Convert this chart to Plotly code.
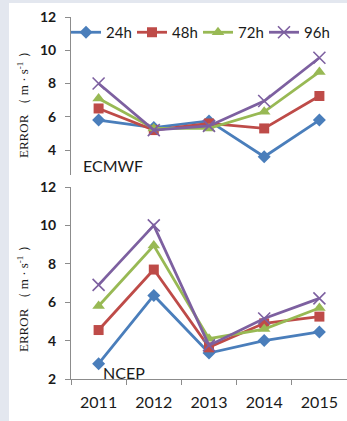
import plotly.graph_objects as go

years = ["2011", "2012", "2013", "2014", "2015"]
series_names = ["24h", "48h", "72h", "96h"]

ecmwf_24h = [5.8, 5.35, 5.75, 3.6, 5.8]
ecmwf_48h = [6.5, 5.2, 5.6, 5.3, 7.25]
ecmwf_72h = [7.1, 5.3, 5.3, 6.3, 8.7]
ecmwf_96h = [8.0, 5.2, 5.45, 6.95, 9.55]

ncep_24h = [2.8, 6.35, 3.35, 4.0, 4.45]
ncep_48h = [4.55, 7.7, 3.65, 4.9, 5.25]
ncep_72h = [5.8, 8.95, 4.1, 4.6, 5.7]
ncep_96h = [6.9, 10.0, 3.75, 5.15, 6.2]

y_ticks = [2, 4, 6, 8, 10, 12]

colors = ["#4a7ebb", "#be4b48", "#98b954", "#7d60a0"]
symbols = ["diamond", "square", "triangle-up", "x-thin"]
sizes = [10, 10, 11, 12]

W, H = 347, 421

def px_x(p):
    return p / W

def px_y(p):
    return 1 - p / H

fig = go.Figure()

ecmwf = [ecmwf_24h, ecmwf_48h, ecmwf_72h, ecmwf_96h]
ncep = [ncep_24h, ncep_48h, ncep_72h, ncep_96h]

for i, name in enumerate(series_names):
    mk = dict(symbol=symbols[i], size=sizes[i], color=colors[i])
    if symbols[i] == "x-thin":
        mk["line"] = dict(color=colors[i], width=1.6)
    fig.add_trace(go.Scatter(
        x=years, y=ecmwf[i], name=name, mode="lines+markers",
        line=dict(color=colors[i], width=2.8), marker=mk,
        xaxis="x", yaxis="y", showlegend=True))
for i, name in enumerate(series_names):
    mk = dict(symbol=symbols[i], size=sizes[i], color=colors[i])
    if symbols[i] == "x-thin":
        mk["line"] = dict(color=colors[i], width=1.6)
    fig.add_trace(go.Scatter(
        x=years, y=ncep[i], name=name, mode="lines+markers",
        line=dict(color=colors[i], width=2.8), marker=mk,
        xaxis="x2", yaxis="y2", showlegend=False))

axis_color = "#8c8c8c"
tick_font = dict(family="Lato, Open Sans, sans-serif", size=14, color="#1a1a1a", weight="bold")

xdom = [px_x(71), 1.0]

title_text = "ERROR （ m · s<sup>-1</sup> ）"

fig.update_layout(
    width=W, height=H,
    margin=dict(l=0, r=0, t=0, b=0, autoexpand=False),
    paper_bgcolor="#e3e7ef",
    plot_bgcolor="rgba(0,0,0,0)",
    xaxis=dict(domain=xdom, type="category", range=[-0.5, 4.5], visible=False,
               anchor="y", automargin=False),
    yaxis=dict(domain=[px_y(175), px_y(17)], range=[2.5, 12], tickvals=y_ticks[1:],
               showgrid=False, zeroline=False, showline=True, linecolor=axis_color,
               linewidth=1, ticks="outside", ticklen=5, tickcolor=axis_color,
               tickfont=tick_font, ticklabelstandoff=6, anchor="x", automargin=False),
    xaxis2=dict(domain=xdom, type="category", range=[-0.5, 4.5], anchor="y2",
                showgrid=False, showline=True, linecolor=axis_color, linewidth=1,
                ticks="outside", ticklen=5, tickcolor=axis_color, tickson="boundaries",
                tickfont=dict(family="Lato, Open Sans, sans-serif", size=16, color="#1a1a1a"),
                ticklabelstandoff=9, automargin=False),
    yaxis2=dict(domain=[px_y(379), px_y(187)], range=[2, 12], tickvals=y_ticks,
                showgrid=False, zeroline=False, showline=True, linecolor=axis_color,
                linewidth=1, ticks="outside", ticklen=5, tickcolor=axis_color,
                tickfont=tick_font, ticklabelstandoff=6, anchor="x2", automargin=False),
    legend=dict(orientation="h", x=px_x(66), y=px_y(16), xanchor="left", yanchor="top",
                bgcolor="rgba(0,0,0,0)", entrywidth=21,
                font=dict(family="Lato, Open Sans, sans-serif", size=15, color="#1a1a1a"),
                tracegroupgap=0, itemwidth=30),
    shapes=[dict(type="rect", xref="paper", yref="paper", x0=px_x(9), x1=1,
                 y0=0, y1=px_y(3), fillcolor="white", line=dict(width=0), layer="below")],
    annotations=[
        dict(text="ECMWF", xref="paper", yref="paper", x=px_x(81), y=px_y(165),
             xanchor="left", yanchor="middle", showarrow=False,
             font=dict(family="Lato, Open Sans, sans-serif", size=16, color="#1a1a1a")),
        dict(text="NCEP", xref="paper", yref="paper", x=px_x(101), y=px_y(372),
             xanchor="left", yanchor="middle", showarrow=False,
             font=dict(family="Lato, Open Sans, sans-serif", size=16, color="#1a1a1a")),
        dict(text=title_text, xref="paper", yref="paper",
             x=px_x(23), y=px_y(102), textangle=-90, showarrow=False,
             xanchor="center", yanchor="middle",
             font=dict(family="Liberation Serif, serif", size=13, color="#1a1a1a")),
        dict(text=title_text, xref="paper", yref="paper",
             x=px_x(23), y=px_y(296), textangle=-90, showarrow=False,
             xanchor="center", yanchor="middle",
             font=dict(family="Liberation Serif, serif", size=13, color="#1a1a1a")),
    ],
)

fig.write_html(
    "out.html",
    config={"displayModeBar": False},
    post_script="document.body.style.margin='0';document.body.style.padding='0';"
                "document.body.style.overflow='hidden';"
                "document.documentElement.style.background='#e3e7ef';",
)
